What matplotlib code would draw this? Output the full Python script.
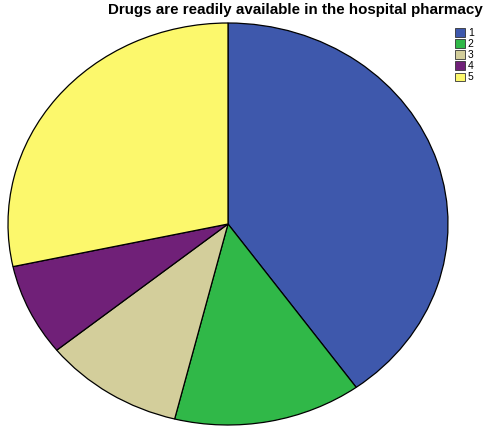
import matplotlib
matplotlib.use('Agg')
import matplotlib.pyplot as plt
from matplotlib.patches import Patch

# response share for each answer level
categories = ['1', '2', '3', '4', '5']
shares = [40.1, 13.8, 10.3, 7.4, 28.4]
colors = ['#3e58ac', '#30b848', '#d3ce9b', '#702078', '#fcf86c']

plt.rcParams['font.family'] = ['Liberation Sans', 'DejaVu Sans']

fig = plt.figure(figsize=(4.9, 4.29), dpi=100)
ax = fig.add_axes([8 / 490, 4 / 429, 440 / 490, 402 / 429])
ax.pie(shares, colors=colors, startangle=90, counterclock=False,
       wedgeprops={'edgecolor': 'black', 'linewidth': 0.9})
ax.set_aspect('auto')
ax.set_xlim(-1.0, 1.0)
ax.set_ylim(-1.0, 1.0)
ax.axis('off')

fig.text(0.986, 0.993, 'Drugs are readily available in the hospital pharmacy',
         ha='right', va='top', fontsize=10.9, fontweight='bold')

handles = [Patch(facecolor=c, edgecolor='#333333', linewidth=0.6) for c in colors]
fig.legend(handles, categories, loc='upper left', bbox_to_anchor=(448 / 490, 1 - 21 / 429),
           frameon=False, fontsize=7.5, handlelength=0.9, handleheight=0.9,
           handletextpad=0.3, labelspacing=0.1, borderpad=0.2)

plt.savefig('out.png', dpi=100)
